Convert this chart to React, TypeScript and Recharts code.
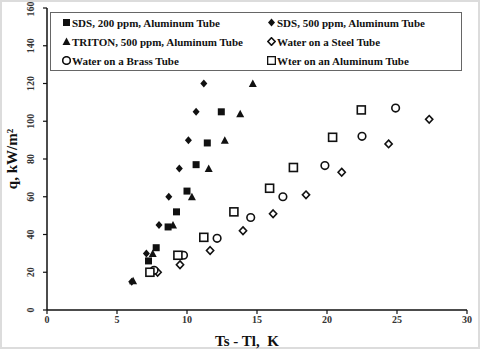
import { ScatterChart, Scatter, XAxis, YAxis, Label } from "recharts";

// values: wall superheat (K) vs heat flux (kW/m2)
const sds200X = [7.25, 7.8, 8.65, 9.25, 10.0, 10.65, 11.45, 12.45];
const sds200Y = [26, 33, 44, 52, 63, 77, 88.5, 105];

const sds500X = [6.05, 7.1, 8.0, 8.7, 9.45, 10.1, 10.65, 11.2];
const sds500Y = [15, 30, 45, 60, 75, 90, 105, 120];

const tritonX = [6.15, 7.55, 9.0, 10.35, 11.55, 12.7, 13.8, 14.7];
const tritonY = [15.5, 30, 45, 60, 75, 90, 104, 120];

const steelX = [7.9, 9.5, 11.65, 14.0, 16.15, 18.5, 21.05, 24.4, 27.3];
const steelY = [20, 24, 31.5, 42, 51, 61, 73, 88, 101];

const brassX = [7.65, 9.75, 12.15, 14.55, 16.85, 19.85, 22.5, 24.9];
const brassY = [21, 29, 38, 49, 60, 76.5, 92, 107];

const aluX = [7.35, 9.35, 11.2, 13.35, 15.9, 17.6, 20.4, 22.45];
const aluY = [20, 29, 38.5, 52, 64.5, 75.5, 91.5, 106];

const xTicks = [0, 5, 10, 15, 20, 25, 30];
const yTicks = [0, 20, 40, 60, 80, 100, 120, 140, 160];

const toPoints = (xs: number[], ys: number[]) => xs.map((x, i) => ({ x, y: ys[i] }));

type Kind = "square" | "diamond" | "triangle" | "openDiamond" | "circle" | "openSquare";

const series: { name: string; kind: Kind; data: { x: number; y: number }[] }[] = [
  { name: "SDS, 200 ppm, Aluminum Tube", kind: "square", data: toPoints(sds200X, sds200Y) },
  { name: "SDS, 500 ppm, Aluminum Tube", kind: "diamond", data: toPoints(sds500X, sds500Y) },
  { name: "TRITON, 500 ppm, Aluminum Tube", kind: "triangle", data: toPoints(tritonX, tritonY) },
  { name: "Water on a Steel Tube", kind: "openDiamond", data: toPoints(steelX, steelY) },
  { name: "Water on a Brass Tube", kind: "circle", data: toPoints(brassX, brassY) },
  { name: "Wter on an Aluminum Tube", kind: "openSquare", data: toPoints(aluX, aluY) },
];

const FONT = '"Liberation Serif", "Times New Roman", serif';
const INK = "#111";

function Marker({ kind, cx, cy }: { kind: Kind; cx: number; cy: number }) {
  switch (kind) {
    case "square":
      return <rect x={cx - 3.5} y={cy - 3.5} width={7} height={7} fill={INK} />;
    case "diamond":
      return <path d={`M${cx},${cy - 4}L${cx + 3.5},${cy}L${cx},${cy + 4}L${cx - 3.5},${cy}Z`} fill={INK} />;
    case "triangle":
      return <path d={`M${cx},${cy - 4}L${cx + 4},${cy + 3.5}L${cx - 4},${cy + 3.5}Z`} fill={INK} />;
    case "openDiamond":
      return (
        <path
          d={`M${cx},${cy - 3.8}L${cx + 3.6},${cy}L${cx},${cy + 3.8}L${cx - 3.6},${cy}Z`}
          fill="#fff"
          stroke={INK}
          strokeWidth={1.6}
        />
      );
    case "circle":
      return <circle cx={cx} cy={cy} r={3.8} fill="#fff" stroke={INK} strokeWidth={1.6} />;
    default:
      return <rect x={cx - 4} y={cy - 4} width={8} height={8} fill="#fff" stroke={INK} strokeWidth={1.6} />;
  }
}

function YTick({ x, y, payload }: any) {
  return (
    <text
      x={x}
      y={y}
      transform={`rotate(-90, ${x}, ${y})`}
      textAnchor="middle"
      dy={-7}
      fontFamily={FONT}
      fontWeight="bold"
      fontSize={10}
      fill="#333"
    >
      {payload.value}
    </text>
  );
}

function LegendBox() {
  return (
    <div
      style={{
        position: "absolute",
        left: 50,
        top: 12,
        boxSizing: "border-box",
        width: 412,
        height: 59,
        border: "1px solid #666",
        background: "#fff",
        display: "grid",
        gridTemplateColumns: "205px 205px",
        alignContent: "center",
        rowGap: 4,
        paddingLeft: 11,
        fontFamily: FONT,
        fontWeight: "bold",
        fontSize: 11,
        color: INK,
      }}
    >
      {series.map((s) => (
        <div key={s.name} style={{ display: "flex", alignItems: "center", height: 15 }}>
          <svg width={9} height={9} style={{ marginRight: 1 }}>
            <Marker kind={s.kind} cx={4.5} cy={4.5} />
          </svg>
          <span>{s.name}</span>
        </div>
      ))}
    </div>
  );
}

export default function App() {
  return (
    <div
      style={{
        width: 480,
        height: 349,
        position: "relative",
        background: "#fff",
        boxShadow: "inset 0 0 0 2px #dcdcdc",
      }}
    >
      <style>{`body{margin:0}`}</style>
      <ScatterChart width={480} height={349} margin={{ top: 8, right: 13, bottom: 0, left: 0 }}>
        <XAxis
          type="number"
          dataKey="x"
          domain={[0, 30]}
          ticks={xTicks}
          height={39}
          tickSize={4}
          axisLine={{ stroke: INK, strokeWidth: 1.5 }}
          tickLine={{ stroke: INK, strokeWidth: 1.2 }}
          tick={{ fontFamily: FONT, fontWeight: "bold", fontSize: 10, fill: "#333" }}
        >
          <Label
            value={"Ts - Tl,\u00a0 K"}
            position="insideBottom"
            offset={3}
            dx={-10}
            style={{ fontFamily: FONT, fontWeight: "bold", fontSize: 15, fill: INK }}
          />
        </XAxis>
        <XAxis
          xAxisId="top"
          orientation="top"
          type="number"
          domain={[0, 30]}
          height={0}
          tick={false}
          tickLine={false}
          axisLine={{ stroke: INK, strokeWidth: 1.5 }}
        />
        <YAxis
          type="number"
          dataKey="y"
          domain={[0, 160]}
          ticks={yTicks}
          width={47}
          tickSize={4}
          axisLine={{ stroke: INK, strokeWidth: 1.5 }}
          tickLine={{ stroke: INK, strokeWidth: 1.2 }}
          tick={<YTick />}
          label={{
            value: "q, kW/m²",
            angle: -90,
            position: "insideLeft",
            offset: 12,
            style: { fontFamily: FONT, fontWeight: "bold", fontSize: 15, fill: INK, textAnchor: "middle" },
          }}
        />
        <YAxis
          yAxisId="right"
          orientation="right"
          type="number"
          domain={[0, 160]}
          width={0}
          tick={false}
          tickLine={false}
          axisLine={{ stroke: INK, strokeWidth: 1.5 }}
        />
        {series.map((s) => (
          <Scatter
            key={s.name}
            name={s.name}
            data={s.data}
            isAnimationActive={false}
            shape={(p: any) => <Marker kind={s.kind} cx={p.cx} cy={p.cy} />}
          />
        ))}
      </ScatterChart>
      <LegendBox />
    </div>
  );
}
